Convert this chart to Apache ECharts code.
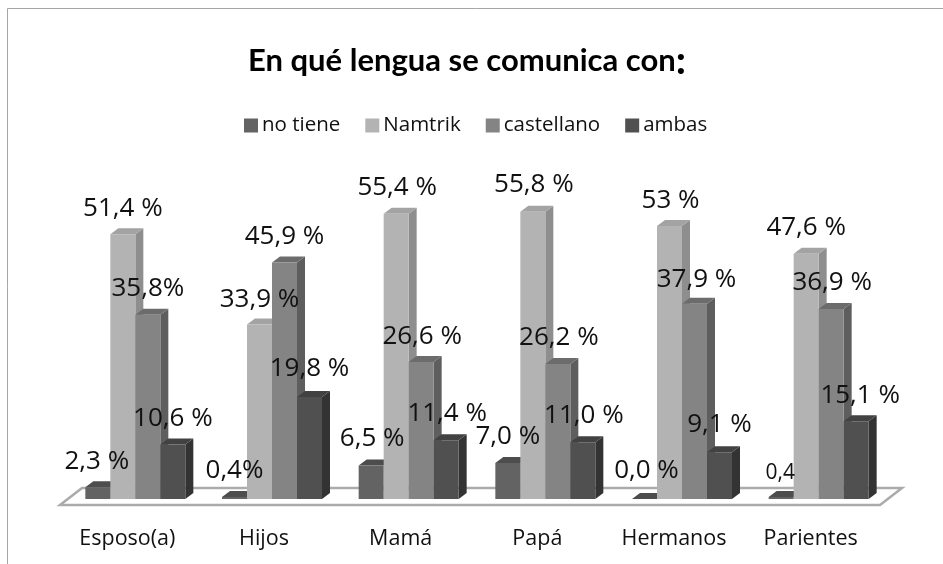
<!DOCTYPE html>
<html><head><meta charset="utf-8">
<script src="https://cdn.jsdelivr.net/npm/echarts@6/dist/echarts.min.js"></script>
<style>html,body{margin:0;padding:0;background:#fff}#c{width:943px;height:564px}</style>
</head><body><div id="c"></div>
<script>
const categories = ['Esposo(a)','Hijos','Mamá','Papá','Hermanos','Parientes'];
const seriesNames = ['no tiene','Namtrik','castellano','ambas'];
const noTiene    = [2.3,0.4,6.5,7.0,0.0,0.4];
const namtrik    = [51.4,33.9,55.4,55.8,53,47.6];
const castellano = [35.8,45.9,26.6,26.2,37.9,36.9];
const ambas      = [10.6,19.8,11.4,11.0,9.1,15.1];
const noTieneText    = ['2,3 %','0,4%','6,5 %','7,0 %','0,0 %','0,4'];
const namtrikText    = ['51,4 %','33,9 %','55,4 %','55,8 %','53 %','47,6 %'];
const castellanoText = ['35,8%','45,9 %','26,6 %','26,2 %','37,9 %','36,9 %'];
const ambasText      = ['10,6 %','19,8 %','11,4 %','11,0 %','9,1 %','15,1 %'];
const values = [noTiene,namtrik,castellano,ambas];
const texts = [noTieneText,namtrikText,castellanoText,ambasText];
// manual label nudges [dx,dy] relative to the default spot above each bar
const nudges = [
 [[-1,0],[0,0],[1,-1],[0,0],[2,-2],[-1,2]],
 [[0,0],[0,1],[1,0],[1,-1],[1,1],[0,0]],
 [[0,0],[0,0],[1,1],[1,0],[2,2],[1,0]],
 [[0,0],[0,-2],[1,-1],[1,-1],[0,-2],[4,0]]
];
const front = ['#636363','#b3b3b3','#848484','#505050'];
const side  = ['#454545','#8e8e8e','#5e5e5e','#333333'];
const top_  = ['#4d4d4d','#a3a3a3','#6c6c6c','#424242'];
const BAR=25, SHIFT=8, DX=8, DY=6;

function barLeft(api,s,i){ return api.coord([i,0])[0] + SHIFT + (s-2)*BAR; }

const series = [];
series.push({
  type:'custom', name:'floor', z:1, silent:true, data:[0], coordinateSystem:'cartesian2d',
  renderItem(params,api){
    const cs=params.coordSys, b=cs.y+cs.height, fy=b+6, by=b-11;
    return {type:'polygon',shape:{points:[[cs.x+1,fy],[cs.x+cs.width+1,fy],[cs.x+cs.width+23,by],[cs.x+23,by]]},
      style:{fill:'#fff',stroke:'#ababab',lineWidth:2.5}};
  }
});
values.forEach((vals,s)=>{
  series.push({
    type:'custom', name:seriesNames[s], z:2+s, silent:true,
    itemStyle:{color:front[s]},
    data:vals.map((v,i)=>[i,v]),
    renderItem(params,api){
      const i=api.value(0), l=barLeft(api,s,i), r=l+BAR;
      const t=api.coord([i,api.value(1)])[1], b=api.coord([i,0])[1];
      const kids=[];
      kids.push({type:'polygon',shape:{points:[[r,t],[r+DX,t-DY],[r+DX,b-DY],[r,b]]},style:{fill:side[s]}});
      kids.push({type:'polygon',shape:{points:[[l,t],[r,t],[r+DX,t-DY],[l+DX,t-DY]]},style:{fill:top_[s]}});
      if(b>t) kids.push({type:'rect',shape:{x:l,y:t,width:BAR,height:b-t},style:{fill:front[s]}});
      return {type:'group',children:kids};
    }
  });
});
values.forEach((vals,s)=>{
  series.push({
    type:'custom', name:seriesNames[s], z:10, silent:true,
    itemStyle:{color:front[s]},
    data:vals.map((v,i)=>[i,v]),
    renderItem(params,api){
      const i=api.value(0), l=barLeft(api,s,i);
      const t=api.coord([i,api.value(1)])[1];
      const txt=texts[s][i], n=nudges[s][i];
      return {type:'text',style:{text:txt,x:l+BAR/2+n[0],y:t-26+n[1],align:'center',verticalAlign:'middle',
        fill:'#111',font:(txt==='0,4'?21:26)+'px "Open Sans"'}};
    }
  });
});

const chart=echarts.init(document.getElementById('c'),null,{renderer:'canvas'});
chart.setOption({
  animation:false,
  backgroundColor:'#fff',
  title:{text:'En qué lengua se comunica con{c|:}',left:462,top:36,textAlign:'center',
    textStyle:{fontFamily:'Lato',fontWeight:'bold',fontSize:31,color:'#000',rich:{c:{fontFamily:'Lato',fontWeight:'bold',fontSize:40,color:'#000'}}}},
  legend:{data:seriesNames,left:239,top:110,icon:'rect',itemWidth:14,itemHeight:14,itemGap:25,selectedMode:false,
    textStyle:{fontFamily:'Open Sans',fontSize:20.5,color:'#111',padding:[0,0,0,-1]}},
  grid:{left:59,width:820,top:190,height:309},
  xAxis:{type:'category',data:categories,axisLine:{show:false},axisTick:{show:false},
    axisLabel:{margin:29,fontFamily:'Open Sans',fontSize:21.5,color:'#111',interval:0}},
  yAxis:{type:'value',min:0,max:60,show:false,splitLine:{show:false}},
  graphic:[
    {type:'line',shape:{x1:7.5,y1:8.5,x2:943,y2:8.5},style:{stroke:'#a6a6a6',lineWidth:1},silent:true},
    {type:'line',shape:{x1:7.5,y1:8.5,x2:7.5,y2:564},style:{stroke:'#a6a6a6',lineWidth:1},silent:true}
  ],
  series
});
</script></body></html>
